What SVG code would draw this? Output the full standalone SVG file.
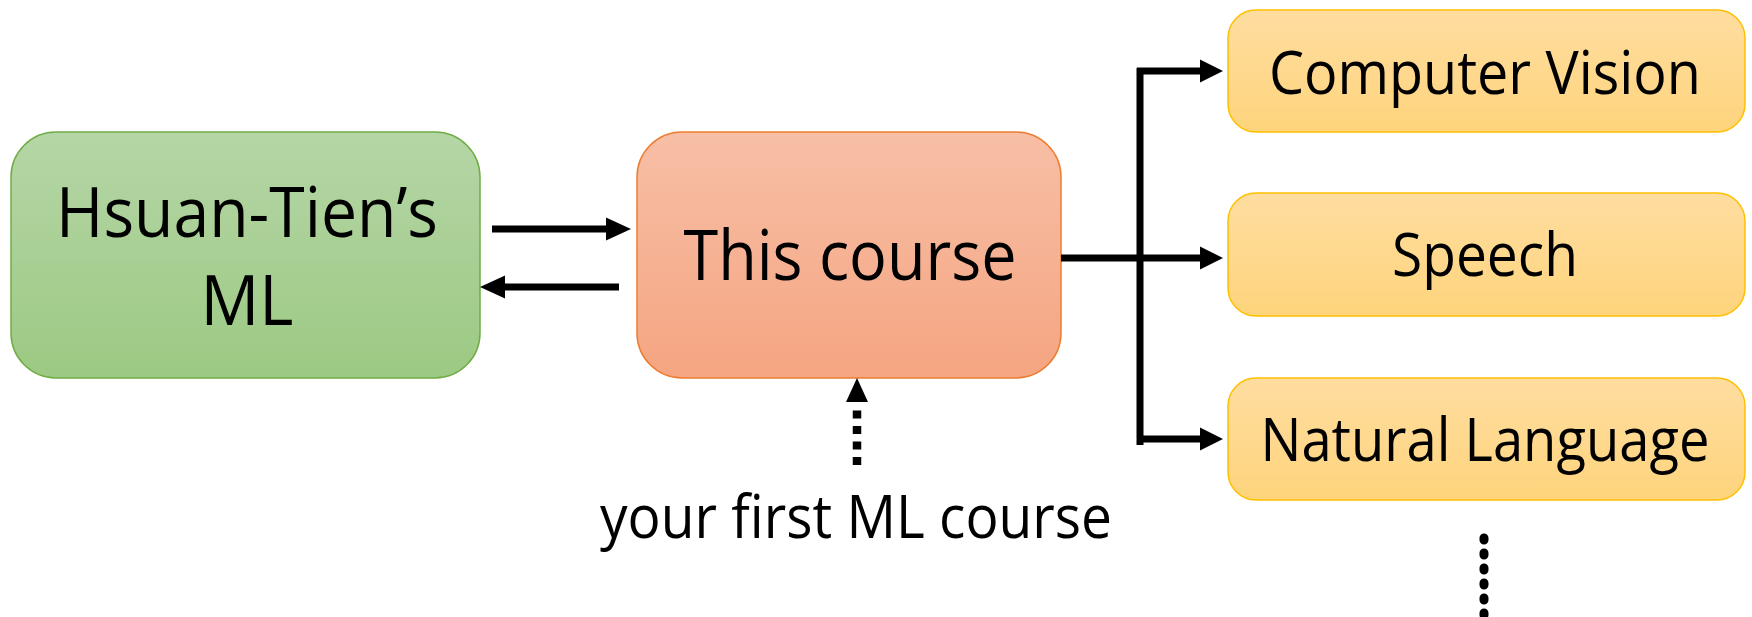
<svg xmlns="http://www.w3.org/2000/svg" width="1752" height="617" viewBox="0 0 1752 617">
<defs>
<linearGradient id="gGreen" x1="0" y1="0" x2="0" y2="1"><stop offset="0" stop-color="#b5d6a6"/><stop offset="1" stop-color="#9cc983"/></linearGradient>
<linearGradient id="gOrange" x1="0" y1="0" x2="0" y2="1"><stop offset="0" stop-color="#f7bfa6"/><stop offset="1" stop-color="#f5a581"/></linearGradient>
<linearGradient id="gYellow" x1="0" y1="0" x2="0" y2="1"><stop offset="0" stop-color="#fedda0"/><stop offset="1" stop-color="#fed47c"/></linearGradient>
<style>
text{font-family:"Open Sans","Noto Sans","Liberation Sans",sans-serif;fill:#000;text-anchor:middle}
.big{font-size:69px}
.mid{font-size:60px}
.ln{stroke:#000;stroke-width:7;fill:none}
.hd{fill:#000}
</style>
</defs>
<g id="hsuan">
<rect x="11" y="132" width="469" height="246" rx="45" fill="url(#gGreen)" stroke="#70ad47" stroke-width="1.5"/>
<text class="big" x="247" y="237" textLength="382" lengthAdjust="spacingAndGlyphs">Hsuan-Tien’s</text>
<text class="big" x="247" y="325" textLength="93" lengthAdjust="spacingAndGlyphs">ML</text>
</g>
<g id="this-course">
<rect x="637" y="132" width="424" height="246" rx="45" fill="url(#gOrange)" stroke="#ed7d31" stroke-width="1.5"/>
<text class="big" x="850" y="280" textLength="333" lengthAdjust="spacingAndGlyphs">This course</text>
</g>
<g id="cv">
<rect x="1228" y="10" width="517" height="122" rx="28" fill="url(#gYellow)" stroke="#ffc000" stroke-width="1.5"/>
<text class="mid" x="1485" y="94" textLength="432" lengthAdjust="spacingAndGlyphs">Computer Vision</text>
</g>
<g id="speech">
<rect x="1228" y="193" width="517" height="123" rx="28" fill="url(#gYellow)" stroke="#ffc000" stroke-width="1.5"/>
<text class="mid" x="1485" y="276" textLength="186" lengthAdjust="spacingAndGlyphs">Speech</text>
</g>
<g id="nl">
<rect x="1228" y="378" width="517" height="122" rx="28" fill="url(#gYellow)" stroke="#ffc000" stroke-width="1.5"/>
<text class="mid" x="1485" y="461" textLength="449" lengthAdjust="spacingAndGlyphs">Natural Language</text>
</g>
<g id="first-course">
<text class="mid" x="856" y="538" textLength="512" lengthAdjust="spacingAndGlyphs">your first ML course</text>
</g>
<g id="connectors">
<line class="ln" x1="492" y1="229" x2="608" y2="229"/>
<polygon class="hd" points="631,229 606,217.5 606,240.5"/>
<line class="ln" x1="619" y1="287" x2="503" y2="287"/>
<polygon class="hd" points="480,287 505,275.5 505,298.5"/>
<line class="ln" x1="1061" y1="258" x2="1202" y2="258"/>
<line class="ln" x1="1140" y1="68" x2="1140" y2="445"/>
<line class="ln" x1="1137" y1="71" x2="1202" y2="71"/>
<line class="ln" x1="1137" y1="439" x2="1202" y2="439"/>
<polygon class="hd" points="1223,71 1200,59.5 1200,82.5"/>
<polygon class="hd" points="1223,258 1200,246.5 1200,269.5"/>
<polygon class="hd" points="1223,439 1200,427.5 1200,450.5"/>
<line x1="857" y1="465" x2="857" y2="403" stroke="#000" stroke-width="8.5" stroke-dasharray="8 7.5"/>
<polygon class="hd" points="857,378 846,402 868,402"/>
<line x1="1484" y1="538" x2="1484" y2="620" stroke="#000" stroke-width="9" stroke-linecap="round" stroke-dasharray="2 13"/>
</g>
</svg>
